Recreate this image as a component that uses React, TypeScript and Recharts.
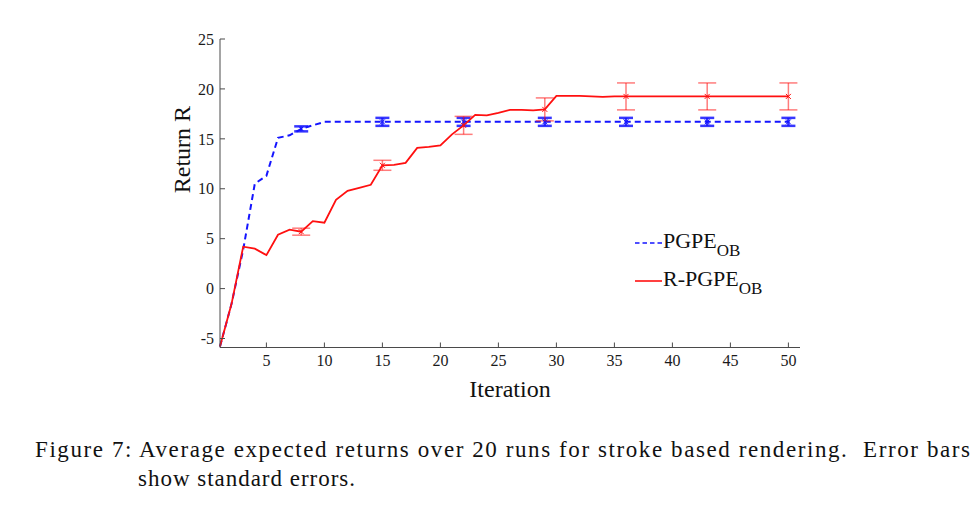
import { LineChart, Line, XAxis, YAxis, ErrorBar, Legend } from 'recharts'

const iterations = [
  1, 2, 3, 4, 5, 6, 7, 8, 9, 10, 11, 12, 13, 14, 15, 16, 17, 18, 19, 20, 21, 22, 23, 24, 25,
  26, 27, 28, 29, 30, 31, 32, 33, 34, 35, 36, 37, 38, 39, 40, 41, 42, 43, 44, 45, 46, 47, 48, 49, 50,
]

const pgpe = [
  -5.8, -1.5, 3.9, 10.5, 11.3, 15.1, 15.35, 16.0, 16.35, 16.7, 16.7, 16.7, 16.7, 16.7, 16.7, 16.7, 16.7,
  16.7, 16.7, 16.7, 16.7, 16.7, 16.7, 16.7, 16.7, 16.7, 16.7, 16.7, 16.7, 16.7, 16.7, 16.7, 16.7, 16.7,
  16.7, 16.7, 16.7, 16.7, 16.7, 16.7, 16.7, 16.7, 16.7, 16.7, 16.7, 16.7, 16.7, 16.7, 16.7, 16.7,
]

const rpgpe = [
  -5.8, -1.5, 4.2, 4.0, 3.35, 5.4, 5.9, 5.7, 6.75, 6.6, 8.9, 9.8, 10.1, 10.4, 12.35, 12.4, 12.6, 14.1,
  14.2, 14.35, 15.45, 16.35, 17.4, 17.35, 17.6, 17.9, 17.9, 17.85, 17.95, 19.3, 19.3, 19.3, 19.25, 19.2,
  19.25, 19.25, 19.25, 19.25, 19.25, 19.25, 19.25, 19.25, 19.25, 19.25, 19.25, 19.25, 19.25, 19.25, 19.25, 19.25,
]

// error bars are only drawn every 7 iterations
const errIters = [8, 15, 22, 29, 36, 43, 50]
const pgpeErr = [0.25, 0.4, 0.4, 0.4, 0.4, 0.4, 0.4]
const rpgpeErr = [0.35, 0.5, 0.9, 1.15, 1.35, 1.35, 1.35]

const xTicks = [5, 10, 15, 20, 25, 30, 35, 40, 45, 50]
const yTicks = [-5, 0, 5, 10, 15, 20, 25]

const seriesNames = ['PGPE', 'R-PGPE']
const subscript = 'OB'

const captionLines = [
  'Figure 7: Average expected returns over 20 runs for stroke based rendering.  Error bars',
  'show standard errors.',
]

const BLUE = '#1414ff'
const RED = '#ff1010'
const AXIS = '#4a4a4a'
const FONT = '"Liberation Serif", "Times New Roman", serif'

const data = iterations.map((it, i) => {
  const k = errIters.indexOf(it)
  return {
    it,
    pgpe: pgpe[i],
    rpgpe: rpgpe[i],
    pgpeErr: k >= 0 ? pgpeErr[k] : undefined,
    rpgpeErr: k >= 0 ? rpgpeErr[k] : undefined,
  }
})

function crossMark(color: string) {
  return (props: any) => {
    const { cx, cy, payload, index } = props
    if (!errIters.includes(payload.it)) return <g key={index} />
    return (
      <path
        key={index}
        d={`M${cx - 2.5},${cy - 2.5}L${cx + 2.5},${cy + 2.5}M${cx - 2.5},${cy + 2.5}L${cx + 2.5},${cy - 2.5}`}
        stroke={color}
        strokeWidth={1}
        fill="none"
      />
    )
  }
}

function LegendBox({ payload }: any) {
  return (
    <div style={{ fontFamily: FONT, color: '#111' }}>
      {(payload || []).map((p: any, i: number) => (
        <div key={i} style={{ display: 'flex', alignItems: 'flex-start', height: 38 }}>
          <svg width={28} height={20} style={{ marginTop: 7 }}>
            <line
              x1={0}
              x2={27}
              y1={10}
              y2={10}
              stroke={p.color}
              strokeWidth={1.6}
              strokeDasharray={i === 0 ? '4.5 3' : undefined}
            />
          </svg>
          <span style={{ fontSize: 22, lineHeight: '30px' }}>
            {seriesNames[i]}
            <span style={{ fontSize: 17, position: 'relative', top: 8 }}>{subscript}</span>
          </span>
        </div>
      ))}
    </div>
  )
}

const tickStyle = { fill: '#1a1a1a', fontSize: 16, fontFamily: FONT }

export default function App() {
  return (
    <div style={{ position: 'absolute', left: 0, top: 0, width: 978, height: 513, background: '#fff' }}>
      <LineChart
        width={978}
        height={420}
        data={data}
        margin={{ top: 39, right: 178, left: 160, bottom: 22.5 }}
        style={{ fontFamily: FONT }}
      >
        <XAxis
          dataKey="it"
          type="number"
          domain={[1, 51]}
          ticks={xTicks}
          height={50}
          tickSize={-5}
          tickMargin={12}
          stroke={AXIS}
          tick={tickStyle}
          label={{ value: 'Iteration', position: 'insideBottom', offset: 0, fill: '#111', fontSize: 24, fontFamily: FONT, dy: -1 }}
        />
        <YAxis
          type="number"
          domain={[-5.9, 25]}
          ticks={yTicks}
          width={60}
          tickSize={-5}
          tickMargin={11}
          stroke={AXIS}
          allowDataOverflow
          tick={tickStyle}
          label={{ value: 'Return R', angle: -90, position: 'insideLeft', offset: 21, fill: '#111', fontSize: 24, fontFamily: FONT }}
        />
        <Legend
          content={<LegendBox />}
          verticalAlign="middle"
          align="center"
          wrapperStyle={{ position: 'absolute', left: 635, top: 226, width: 200 }}
        />
        <Line
          dataKey="pgpe"
          name="PGPE"
          stroke={BLUE}
          strokeWidth={2}
          strokeDasharray="6 4"
          dot={crossMark(BLUE)}
          activeDot={false}
          isAnimationActive={false}
        >
          <ErrorBar dataKey="pgpeErr" direction="y" width={7} stroke={BLUE} strokeWidth={2.5} strokeOpacity={0.85} />
        </Line>
        <Line
          dataKey="rpgpe"
          name="R-PGPE"
          stroke={RED}
          strokeWidth={1.8}
          dot={crossMark(RED)}
          activeDot={false}
          isAnimationActive={false}
        >
          <ErrorBar dataKey="rpgpeErr" direction="y" width={9} stroke={RED} strokeWidth={1.5} strokeOpacity={0.55} />
        </Line>
      </LineChart>
      <svg width={978} height={93} style={{ position: 'absolute', left: 0, top: 420 }}>
        <text x={35} y={37} fontFamily={FONT} fontSize={23} fill="#111" textLength={935} lengthAdjust="spacing" xmlSpace="preserve">
          {captionLines[0]}
        </text>
        <text x={138} y={65.5} fontFamily={FONT} fontSize={23} fill="#111" textLength={217} lengthAdjust="spacing">
          {captionLines[1]}
        </text>
      </svg>
    </div>
  )
}
